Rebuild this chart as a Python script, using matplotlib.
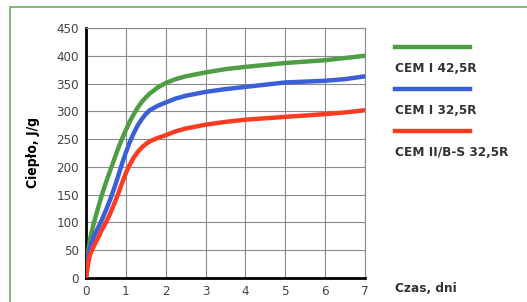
import matplotlib.pyplot as plt
from matplotlib.patches import Rectangle

# values
days = [0, 0.05, 0.1, 0.2, 0.3, 0.4, 0.5, 0.6, 0.7, 0.8, 0.9, 1.0, 1.1, 1.2, 1.3, 1.4,
        1.5, 1.6, 1.8, 2.0, 2.25, 2.5, 3.0, 3.5, 4.0, 5.0, 6.0, 6.5, 7.0]
cem_42 = [0, 45, 70, 100, 125, 150, 172, 192, 212, 232, 250, 266, 282, 295, 307, 317,
          325, 332, 343, 351, 358, 363, 370, 376, 380, 387, 392, 396, 400]
cem_32 = [0, 35, 55, 75, 90, 105, 122, 140, 160, 182, 205, 226, 245, 261, 275, 286,
          295, 302, 310, 316, 323, 328, 335, 340, 344, 352, 355, 358, 363]
cem_ii = [0, 25, 42, 58, 72, 87, 100, 115, 132, 150, 170, 189, 204, 217, 227, 235,
          241, 246, 252, 257, 264, 269, 276, 281, 285, 290, 295, 298, 302]

labels = ["CEM I 42,5R", "CEM I 32,5R", "CEM II/B-S 32,5R"]
colors = ["#4f9d45", "#3b5fd9", "#fb3c22"]
series = [cem_42, cem_32, cem_ii]

font = dict(family="DejaVu Sans", stretch="condensed")

fig = plt.figure(figsize=(5.27, 3.02), dpi=100)
W, H = 527, 302

# green frame (cut on right and bottom)
fig.patches.append(Rectangle((10 / W, -0.1), 1.2, (H - 7) / H + 0.1, transform=fig.transFigure,
                             fill=False, edgecolor="#6cae5e", lw=1.2))

ax = fig.add_axes([86 / W, (H - 278) / H, (365 - 86) / W, (278 - 28) / H])
for y, c in zip(series, colors):
    ax.plot(days, y, color=c, lw=3.2, solid_capstyle="round", solid_joinstyle="round", zorder=3)

ax.set_xlim(0, 7)
ax.set_ylim(0, 450)
ax.set_xticks(range(8))
ax.set_yticks(range(0, 451, 50))
ax.grid(True, color="#8a8a8a", lw=0.8)
ax.set_axisbelow(True)
for s in ["top", "right"]:
    ax.spines[s].set_color("#8a8a8a")
    ax.spines[s].set_linewidth(0.8)
for s in ["left", "bottom"]:
    ax.spines[s].set_color("black")
    ax.spines[s].set_linewidth(2)
ax.tick_params(length=0, pad=5, labelsize=9.5, labelcolor="#444444")
for lab in ax.get_xticklabels() + ax.get_yticklabels():
    lab.set_family(font["family"])
    lab.set_stretch(font["stretch"])

ax.set_ylabel("Ciepło, J/g", fontweight="bold", fontsize=10, labelpad=12, **font)

# legend drawn by hand to match the layout
for i, (lab, c) in enumerate(zip(labels, colors)):
    yl = (H - (47 + 42 * i)) / H
    fig.add_artist(plt.Line2D([395 / W, 470 / W], [yl, yl], transform=fig.transFigure,
                              color=c, lw=3.2))
    fig.text(395 / W, (H - (68 + 42 * i)) / H, lab, fontweight="bold",
             fontsize=9.7, color="#333333", va="center", ha="left", **font)

fig.text(395 / W, (H - 288) / H, "Czas, dni", fontweight="bold",
         fontsize=9.7, color="#333333", va="center", ha="left", **font)

fig.savefig("out.png", dpi=100)
